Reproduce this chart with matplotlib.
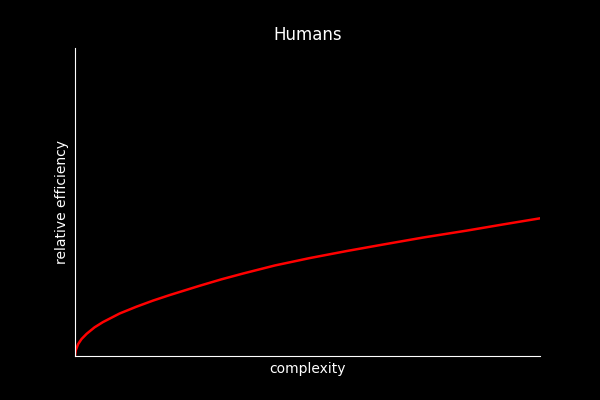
import matplotlib
matplotlib.use("Agg")
import matplotlib.pyplot as plt

# values (axes fractions)
complexity = [0.0, 0.0015, 0.0065, 0.014, 0.025, 0.042, 0.060, 0.096, 0.132,
              0.168, 0.204, 0.268, 0.315, 0.362, 0.43, 0.505, 0.585, 0.663,
              0.75, 0.842, 0.92, 1.0]
efficiency = [0.0, 0.018, 0.038, 0.055, 0.072, 0.093, 0.110, 0.138, 0.160,
              0.180, 0.198, 0.228, 0.249, 0.268, 0.294, 0.318, 0.341, 0.362,
              0.385, 0.407, 0.427, 0.447]

fig, ax = plt.subplots(figsize=(6, 4), dpi=100)
fig.patch.set_facecolor("black")
ax.set_facecolor("black")

ax.plot(complexity, efficiency, color="red", linewidth=1.8)

ax.set_xlim(0, 1)
ax.set_ylim(0, 1)
ax.set_xticks([])
ax.set_yticks([])
ax.spines["top"].set_visible(False)
ax.spines["right"].set_visible(False)
ax.spines["left"].set_color("white")
ax.spines["bottom"].set_color("white")

ax.set_title("Humans", color="white")
ax.set_xlabel("complexity", color="white")
ax.set_ylabel("relative efficiency", color="white")

fig.savefig("out.png", facecolor=fig.get_facecolor())
